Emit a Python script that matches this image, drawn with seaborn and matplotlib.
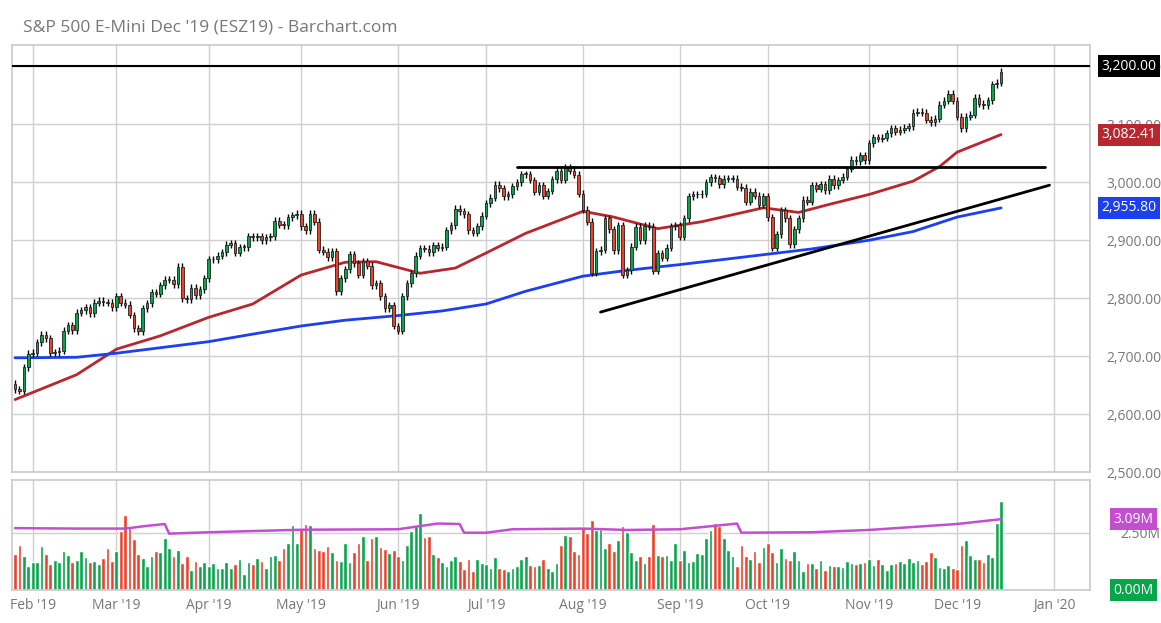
import numpy as np
import pandas as pd
import matplotlib
matplotlib.use("Agg")
import matplotlib.pyplot as plt
import seaborn as sns

# ─────────────── Data ───────────────
closes = [
    2643, 2640, 2681, 2704,
    2706, 2724, 2737, 2731, 2706, 2707, 2709, 2744, 2753, 2745, 2775, 2779, 2784, 2774, 2792, 2796, 2793, 2792, 2784,
    2803, 2792, 2789, 2771, 2748, 2743, 2783, 2791, 2810, 2808, 2822, 2832, 2832, 2824, 2854, 2800, 2798, 2818, 2805, 2815, 2834,
    2867, 2867, 2873, 2879, 2892, 2895, 2878, 2888, 2888, 2907, 2905, 2907, 2900, 2905, 2907, 2934, 2927, 2926, 2940, 2943, 2946,
    2924, 2917, 2946, 2932, 2884, 2880, 2871, 2881, 2812, 2834, 2850, 2876, 2860, 2840, 2864, 2856, 2822, 2826, 2803, 2783, 2788, 2752,
    2744, 2803, 2826, 2843, 2873, 2886, 2885, 2879, 2891, 2887, 2889, 2917, 2926, 2954, 2950, 2945, 2917, 2913, 2924, 2942,
    2964, 2973, 2996, 2990, 2976, 2979, 2993, 3000, 3014, 3014, 3004, 2984, 2995, 2977, 2985, 3005, 3019, 3004, 3026, 3020, 3013, 2980,
    2953, 2932, 2844, 2881, 2884, 2938, 2919, 2883, 2926, 2840, 2848, 2889, 2923, 2900, 2925, 2923, 2847, 2878, 2870, 2887, 2924, 2926,
    2906, 2938, 2976, 2979, 2979, 2980, 3000, 3009, 3007, 2997, 3006, 3006, 3006, 2992, 2991, 2966, 2984, 2977, 2961, 2976,
    2940, 2887, 2910, 2952, 2938, 2893, 2919, 2938, 2970, 2966, 2995, 2989, 2997, 2986, 3006, 2995, 3004, 3010, 3023, 3039, 3036, 3047, 3038,
    3067, 3078, 3075, 3077, 3085, 3093, 3087, 3091, 3094, 3097, 3120, 3122, 3120, 3108, 3104, 3110, 3134, 3141, 3153, 3141,
    3113, 3093, 3113, 3117, 3146, 3136, 3133, 3142, 3169, 3172, 3191,
]
first_open = 2652

volume_m = [
    1.57, 1.96, 1.48, 1.05, 1.22, 1.22, 1.92, 1.57, 1.13, 1.31,
    1.22, 1.70, 1.53, 1.22, 1.31, 1.70, 1.44, 1.22, 1.26, 1.13,
    1.39, 1.83, 1.26, 1.70, 2.57, 3.27, 2.75, 2.23, 1.57, 1.39,
    1.05, 1.48, 1.70, 1.66, 2.27, 1.83, 1.48, 1.74, 1.18, 1.48,
    0.87, 1.26, 1.05, 1.22, 1.05, 1.18, 0.96, 0.96, 1.22, 0.96,
    1.13, 1.35, 0.70, 1.22, 1.13, 1.39, 1.26, 0.96, 1.48, 1.53,
    1.31, 1.83, 2.05, 2.83, 2.05, 2.66, 2.88, 2.83, 1.83, 1.74,
    1.70, 1.92, 1.66, 1.31, 1.26, 2.05, 1.22, 1.66, 2.05, 2.35,
    1.31, 2.27, 2.35, 1.87, 1.79, 1.61, 1.74, 1.48, 1.31, 1.96,
    2.57, 2.83, 3.36, 2.31, 2.35, 1.57, 1.44, 1.22, 1.05, 1.31,
    1.48, 1.26, 0.92, 1.35, 0.83, 1.35, 1.18, 1.13, 0.96, 1.44,
    0.96, 0.92, 0.83, 0.96, 1.05, 1.35, 1.48, 1.09, 1.05, 1.09,
    1.35, 0.96, 0.83, 1.18, 1.96, 2.40, 2.35, 1.70, 1.57,
    2.75, 2.49, 3.06, 2.62, 2.66, 1.83, 2.05, 1.70, 2.18, 2.79,
    2.53, 1.66, 1.31, 1.48, 1.18, 1.48, 2.88, 1.53, 1.48, 1.53,
    1.31, 2.05, 1.31, 1.74, 1.22, 1.26, 1.61, 1.57, 2.27, 2.62,
    2.92, 2.79, 2.27, 1.74, 1.48, 1.05, 1.96, 1.48, 1.35, 1.70,
    1.22, 1.87, 2.05, 1.66, 1.22, 1.83, 1.39, 1.31, 1.70, 1.31,
    0.83, 1.18, 1.18, 0.96, 1.31, 0.87, 1.09, 1.05, 1.05, 1.00,
    1.26, 1.18, 1.13, 1.18, 1.22, 1.35, 1.09, 1.35, 1.13, 0.87,
    1.13, 1.18, 1.26, 1.18, 1.39, 1.22, 1.31, 1.13, 1.26, 1.66,
    1.44, 1.00, 0.96, 1.09, 0.96, 0.92, 1.96, 2.18, 1.53, 1.35,
    1.35, 1.22, 1.57, 1.44, 2.93, 3.88,
]

ma50_dates = ["2019-01-28", "2019-02-15", "2019-03-01", "2019-03-15", "2019-04-01", "2019-04-15",
              "2019-05-01", "2019-05-15", "2019-05-24", "2019-06-10", "2019-06-20", "2019-07-01",
              "2019-07-15", "2019-08-01", "2019-08-12", "2019-08-26", "2019-09-10", "2019-09-30",
              "2019-10-10", "2019-10-21", "2019-11-01", "2019-11-15", "2019-11-25", "2019-12-02",
              "2019-12-16"]
ma50_vals = [2625, 2668, 2712, 2735, 2767, 2790, 2840, 2862, 2863, 2843, 2852, 2878,
             2912, 2950, 2940, 2920, 2932, 2956, 2948, 2962, 2979, 3002, 3027, 3052, 3082.41]
ma200_dates = ["2019-01-28", "2019-02-15", "2019-03-01", "2019-04-01", "2019-04-15", "2019-05-01",
               "2019-05-15", "2019-06-03", "2019-06-17", "2019-07-01", "2019-07-15", "2019-08-01",
               "2019-08-15", "2019-09-03", "2019-09-16", "2019-10-01", "2019-10-15", "2019-11-01",
               "2019-11-15", "2019-12-02", "2019-12-16"]
ma200_vals = [2697, 2698, 2705, 2725, 2738, 2752, 2762, 2770, 2778, 2790, 2812, 2838,
              2848, 2858, 2866, 2876, 2885, 2900, 2915, 2940, 2955.80]
vavg_dates = ["2019-01-28", "2019-02-15", "2019-03-05", "2019-03-12", "2019-03-18", "2019-03-19",
              "2019-04-01", "2019-05-01", "2019-06-03", "2019-06-14", "2019-06-21", "2019-06-24",
              "2019-07-01", "2019-07-10", "2019-08-01", "2019-08-15", "2019-09-03", "2019-09-13",
              "2019-09-20", "2019-09-23", "2019-10-15", "2019-11-01", "2019-12-02", "2019-12-16"]
vavg_vals = [2.70, 2.68, 2.68, 2.80, 2.88, 2.46, 2.52, 2.63, 2.65, 2.90, 2.88, 2.50,
             2.50, 2.65, 2.68, 2.62, 2.65, 2.80, 2.90, 2.50, 2.52, 2.62, 2.88, 3.09]

holidays = ["2019-02-18", "2019-04-19", "2019-05-27", "2019-07-04", "2019-09-02", "2019-11-28"]
month_labels = ["Feb '19", "Mar '19", "Apr '19", "May '19", "Jun '19", "Jul '19",
                "Aug '19", "Sep '19", "Oct '19", "Nov '19", "Dec '19", "Jan '20"]

# ─────────────── Build frame ───────────────
dates = pd.bdate_range("2019-01-28", "2019-12-16").drop(pd.to_datetime(holidays))
df = pd.DataFrame({"date": dates, "close": closes, "vol": volume_m})
df["i"] = np.arange(len(df))
df["open"] = df["close"].shift(1).fillna(first_open)
up = df["close"] >= df["open"]
pos = {d: i for i, d in enumerate(df["date"])}


def to_idx(ds):
    return [pos[pd.Timestamp(d)] for d in ds]


GREEN, RED = "#07a64b", "#ee4129"

sns.set_theme(style="white")
plt.rcParams["font.family"] = ["Open Sans", "DejaVu Sans"]
fig = plt.figure(figsize=(11.61, 6.23), dpi=100)
ax = fig.add_axes([12 / 1161, 1 - 472 / 623, 1078 / 1161, 427 / 623])
axv = fig.add_axes([12 / 1161, 1 - 590 / 623, 1078 / 1161, 110 / 623], sharex=ax)

xmin, xmax = -0.7, 244.2

# ─────────────── Price panel ───────────────
body_lo = np.minimum(df["open"], df["close"])
body_hi = np.maximum(df["open"], df["close"])
ax.vlines(df["i"], body_lo - 6, body_hi + 6, color="black", lw=1, zorder=3)
ax.bar(df["i"], np.maximum(body_hi - body_lo, 1.5), bottom=body_lo, width=0.6,
       color=np.where(up, GREEN, RED), edgecolor="#222222", linewidth=0.6, zorder=4)

sns.lineplot(x=to_idx(ma50_dates), y=ma50_vals, ax=ax, color="#b7272f", lw=2, zorder=2)
sns.lineplot(x=to_idx(ma200_dates), y=ma200_vals, ax=ax, color="#1c3ff0", lw=2, zorder=2)

ax.axhline(3200, color="black", lw=1.5, zorder=5)
ax.plot([114, 234], [3027, 3027], color="black", lw=2, zorder=5)
ax.plot([133, 235], [2776, 2995], color="black", lw=2, zorder=5)

ax.set_xlim(xmin, xmax)
ax.set_ylim(2500, 3237)
ticks = np.arange(2500, 3201, 100)
ax.set_yticks(ticks)
ax.yaxis.tick_right()
ax.set_yticklabels([f"{v:,.2f}" for v in ticks], color="#777777", fontsize=10)
ax.tick_params(axis="y", length=0, pad=12)
ax.grid(True, color="#d0d0d0", lw=1)
ax.set_axisbelow(True)
plt.setp(ax.get_xticklabels(), visible=False)
ax.tick_params(axis="x", length=0)
for s in ax.spines.values():
    s.set_color("#cccccc")

for y, txt, fc in [(3200, "3,200.00", "black"), (3082.41, "3,082.41", "#b7272f"), (2955.80, "2,955.80", "#1c3ff0")]:
    ax.text(1.011, (y - 2500) / 737, txt, transform=ax.transAxes, color="white", fontsize=10,
            va="center", ha="left", zorder=10, clip_on=False,
            bbox=dict(boxstyle="square,pad=0.25", fc=fc, ec="none"))
ax.text(0.01, 1.04, "S&P 500 E-Mini Dec '19 (ESZ19) - Barchart.com", transform=ax.transAxes,
        fontsize=12.5, color="#777777", ha="left", va="center")

# ─────────────── Volume panel ───────────────
axv.bar(df["i"], df["vol"], width=0.85, color=np.where(up, GREEN, RED), zorder=2)
sns.lineplot(x=to_idx(vavg_dates), y=vavg_vals, ax=axv, color="#c34fd0", lw=1.8, zorder=3)
axv.set_ylim(0, 4.8)
axv.set_yticks([2.5])
axv.yaxis.tick_right()
axv.set_yticklabels(["2.50M"], color="#777777", fontsize=10)
axv.tick_params(axis="y", length=0, pad=22)
axv.grid(True, color="#d0d0d0", lw=1)
axv.set_axisbelow(True)
for s in axv.spines.values():
    s.set_color("#cccccc")
for y, txt, fc in [(3.09, "3.09M", "#c34fd0"), (0.0, "0.00M", GREEN)]:
    axv.text(1.022, y / 4.8, txt, transform=axv.transAxes, color="white", fontsize=10,
             va="center", ha="left", zorder=10, clip_on=False,
             bbox=dict(boxstyle="square,pad=0.25", fc=fc, ec="none"))

month_starts = df.groupby(df["date"].dt.to_period("M"))["i"].min().tolist()[1:] + [236]
axv.set_xticks(month_starts)
axv.set_xticklabels(month_labels, color="#777777", fontsize=10)
axv.tick_params(axis="x", length=0, pad=6)
axv.set_xlim(xmin, xmax)

fig.savefig("out.png", dpi=100)
